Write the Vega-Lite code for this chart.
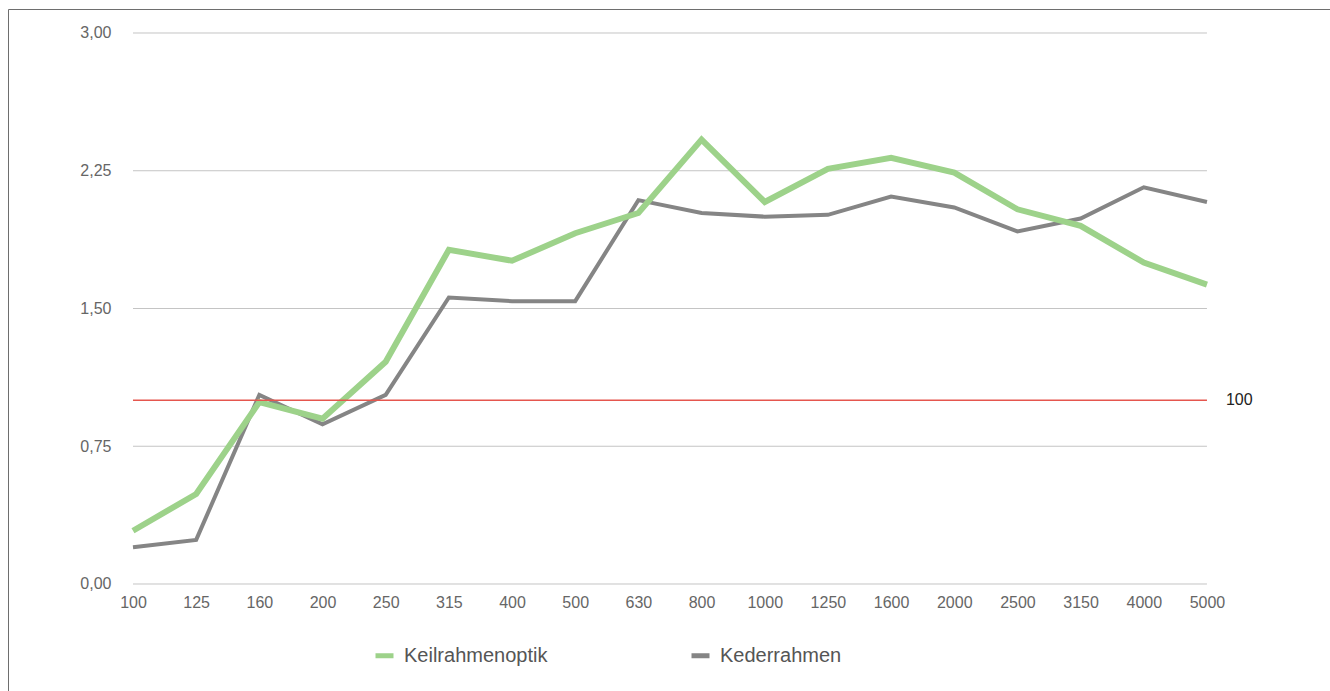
{
  "$schema": "https://vega.github.io/schema/vega-lite/v6.json",
  "width": 1322,
  "height": 682,
  "autosize": "none",
  "padding": {"left": 8, "top": 9, "right": 0, "bottom": 0},
  "background": "white",
  "config": {
    "view": {"stroke": null},
    "font": "Liberation Sans",
    "axis": {"labelFont": "Liberation Sans", "labelFontSize": 16, "labelColor": "#666666"}
  },
  "resolve": {"scale": {"x": "shared", "y": "shared"}, "axis": {"x": "independent", "y": "independent"}},
  "datasets": {
    "grid": [{"v": 0}, {"v": 0.75}, {"v": 1.5}, {"v": 2.25}, {"v": 3}],
    "ref": [{"level": 1, "label": "100", "from": "100", "to": "5000"}],
    "main": [
      {"freq": "100", "series": "Kederrahmen", "value": 0.20},
      {"freq": "125", "series": "Kederrahmen", "value": 0.24},
      {"freq": "160", "series": "Kederrahmen", "value": 1.03},
      {"freq": "200", "series": "Kederrahmen", "value": 0.87},
      {"freq": "250", "series": "Kederrahmen", "value": 1.03},
      {"freq": "315", "series": "Kederrahmen", "value": 1.56},
      {"freq": "400", "series": "Kederrahmen", "value": 1.54},
      {"freq": "500", "series": "Kederrahmen", "value": 1.54},
      {"freq": "630", "series": "Kederrahmen", "value": 2.09},
      {"freq": "800", "series": "Kederrahmen", "value": 2.02},
      {"freq": "1000", "series": "Kederrahmen", "value": 2.00},
      {"freq": "1250", "series": "Kederrahmen", "value": 2.01},
      {"freq": "1600", "series": "Kederrahmen", "value": 2.11},
      {"freq": "2000", "series": "Kederrahmen", "value": 2.05},
      {"freq": "2500", "series": "Kederrahmen", "value": 1.92},
      {"freq": "3150", "series": "Kederrahmen", "value": 1.99},
      {"freq": "4000", "series": "Kederrahmen", "value": 2.16},
      {"freq": "5000", "series": "Kederrahmen", "value": 2.08},
      {"freq": "100", "series": "Keilrahmenoptik", "value": 0.29},
      {"freq": "125", "series": "Keilrahmenoptik", "value": 0.49},
      {"freq": "160", "series": "Keilrahmenoptik", "value": 0.99},
      {"freq": "200", "series": "Keilrahmenoptik", "value": 0.90},
      {"freq": "250", "series": "Keilrahmenoptik", "value": 1.21},
      {"freq": "315", "series": "Keilrahmenoptik", "value": 1.82},
      {"freq": "400", "series": "Keilrahmenoptik", "value": 1.76},
      {"freq": "500", "series": "Keilrahmenoptik", "value": 1.91},
      {"freq": "630", "series": "Keilrahmenoptik", "value": 2.02},
      {"freq": "800", "series": "Keilrahmenoptik", "value": 2.42},
      {"freq": "1000", "series": "Keilrahmenoptik", "value": 2.08},
      {"freq": "1250", "series": "Keilrahmenoptik", "value": 2.26},
      {"freq": "1600", "series": "Keilrahmenoptik", "value": 2.32},
      {"freq": "2000", "series": "Keilrahmenoptik", "value": 2.24},
      {"freq": "2500", "series": "Keilrahmenoptik", "value": 2.04},
      {"freq": "3150", "series": "Keilrahmenoptik", "value": 1.95},
      {"freq": "4000", "series": "Keilrahmenoptik", "value": 1.75},
      {"freq": "5000", "series": "Keilrahmenoptik", "value": 1.63}
    ]
  },
  "layer": [
    {
      "data": {"name": "grid"},
      "mark": {"type": "rule", "color": "#c4c4c4", "strokeWidth": 1},
      "encoding": {
        "x": {
          "datum": "100", "type": "ordinal",
          "scale": {
            "type": "point",
            "domain": ["", "100","125","160","200","250","315","400","500","630","800","1000","1250","1600","2000","2500","3150","4000","5000", " "],
            "padding": 0.963,
            "align": 0.508
          },
          "axis": {"title": null, "orient": "top", "offset": 0, "domain": true, "domainColor": "#6e6e6e", "domainWidth": 1, "labels": false, "ticks": false, "grid": false}
        },
        "x2": {"datum": "5000"},
        "y": {
          "field": "v", "type": "quantitative",
          "scale": {"domain": [-0.58258, 3.13067], "nice": false, "zero": false},
          "axis": {"title": null, "orient": "left", "offset": 0, "domain": true, "domainColor": "#6e6e6e", "domainWidth": 1, "labels": false, "ticks": false, "grid": false}
        }
      }
    },
    {
      "data": {"name": "main"},
      "transform": [{"filter": "datum.series === 'Kederrahmen'"}],
      "mark": {"type": "line", "strokeWidth": 4, "strokeJoin": "miter"},
      "encoding": {
        "x": {"field": "freq", "type": "ordinal",
          "axis": {"title": null, "orient": "bottom", "offset": -107, "domain": false, "ticks": false, "grid": false, "labelPadding": 10, "labelAngle": 0}
        },
        "y": {"field": "value", "type": "quantitative",
          "axis": {"title": null, "orient": "left", "offset": -117, "domain": false, "ticks": false, "grid": false, "labelPadding": 14, "values": [0, 0.75, 1.5, 2.25, 3], "labelExpr": "replace(format(datum.value, '.2f'), '.', ',')"}
        },
        "color": {
          "field": "series", "type": "nominal",
          "scale": {"domain": ["Keilrahmenoptik", "Kederrahmen"], "range": ["#9dd28a", "#858585"]},
          "legend": {
            "title": null, "orient": "none", "legendX": 365, "legendY": 635,
            "direction": "horizontal", "columns": 2, "columnPadding": 133,
            "symbolType": "stroke", "symbolSize": 324, "symbolStrokeWidth": 5,
            "labelFontSize": 20, "labelColor": "#555555", "labelOffset": 8, "padding": 0,
            "labelFont": "Liberation Sans"
          }
        }
      }
    },
    {
      "data": {"name": "main"},
      "transform": [{"filter": "datum.series === 'Keilrahmenoptik'"}],
      "mark": {"type": "line", "strokeWidth": 6, "strokeJoin": "miter"},
      "encoding": {
        "x": {"field": "freq", "type": "ordinal", "axis": null},
        "y": {"field": "value", "type": "quantitative", "axis": null},
        "color": {"field": "series", "type": "nominal"}
      }
    },
    {
      "data": {"name": "ref"},
      "mark": {"type": "rule", "color": "#e5564e", "strokeWidth": 1.5},
      "encoding": {
        "x": {"field": "from", "type": "ordinal", "axis": null},
        "x2": {"field": "to"},
        "y": {"field": "level", "type": "quantitative", "axis": null}
      }
    },
    {
      "data": {"name": "ref"},
      "mark": {"type": "text", "align": "left", "baseline": "middle", "dx": 19, "fontSize": 16, "color": "#222222", "font": "Liberation Sans"},
      "encoding": {
        "x": {"field": "to", "type": "ordinal", "axis": null},
        "y": {"field": "level", "type": "quantitative", "axis": null},
        "text": {"field": "label"}
      }
    }
  ]
}
